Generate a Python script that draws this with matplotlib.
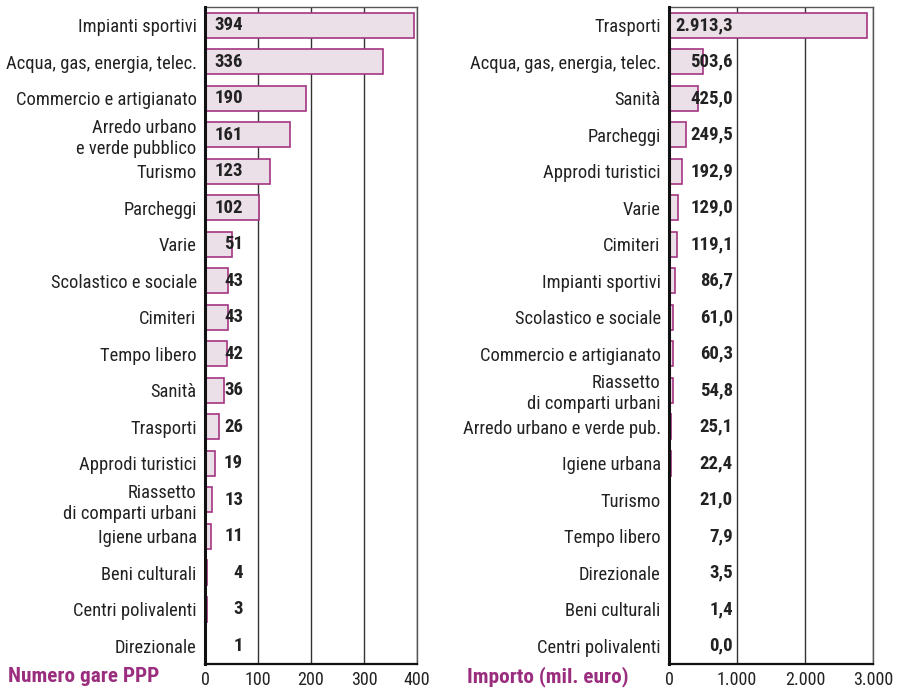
import matplotlib
matplotlib.use("Agg")
import matplotlib.pyplot as plt
from matplotlib.ticker import FuncFormatter

plt.rcParams['font.family'] = ['Liberation Sans Narrow', 'Roboto Condensed', 'Roboto', 'DejaVu Sans']

left_cats = ["Impianti sportivi", "Acqua, gas, energia, telec.", "Commercio e artigianato",
             "Arredo urbano\ne verde pubblico", "Turismo", "Parcheggi", "Varie",
             "Scolastico e sociale", "Cimiteri", "Tempo libero", "Sanità", "Trasporti",
             "Approdi turistici", "Riassetto\ndi comparti urbani", "Igiene urbana",
             "Beni culturali", "Centri polivalenti", "Direzionale"]
left_vals = [394, 336, 190, 161, 123, 102, 51, 43, 43, 42, 36, 26, 19, 13, 11, 4, 3, 1]
left_ticks = [0, 100, 200, 300, 400]

right_cats = ["Trasporti", "Acqua, gas, energia, telec.", "Sanità", "Parcheggi",
              "Approdi turistici", "Varie", "Cimiteri", "Impianti sportivi",
              "Scolastico e sociale", "Commercio e artigianato",
              "Riassetto\ndi comparti urbani", "Arredo urbano e verde pub.",
              "Igiene urbana", "Turismo", "Tempo libero", "Direzionale",
              "Beni culturali", "Centri polivalenti"]
right_vals = [2913.3, 503.6, 425.0, 249.5, 192.9, 129.0, 119.1, 86.7, 61.0, 60.3,
              54.8, 25.1, 22.4, 21.0, 7.9, 3.5, 1.4, 0.0]
right_ticks = [0, 1000, 2000, 3000]

FILL = "#ebdfe8"
EDGE = "#a33581"
TITLE = "#9b2d7f"

def it_int(v):
    return f"{int(round(v)):,}".replace(",", ".")

def it_dec(v):
    s = f"{v:,.1f}"
    return s.replace(",", "X").replace(".", ",").replace("X", ".")

fig = plt.figure(figsize=(8.98, 6.91), dpi=100)
axL = fig.add_axes([205/898, 1-664/691, 212/898, 657/691])
axR = fig.add_axes([669/898, 1-664/691, 204/898, 657/691])

def draw(ax, cats, vals, ticks, xmax, labx, fmt, title, title_x):
    n = len(cats)
    ys = list(range(n))
    ax.barh(ys, vals, height=0.68, color=FILL, edgecolor=EDGE, linewidth=1.2, zorder=3)
    ax.set_ylim(n - 0.5, -0.5)
    ax.set_xlim(0, xmax)
    ax.set_yticks(ys)
    ax.set_yticklabels(cats, fontsize=13.3, color="#222222", linespacing=1.2)
    ax.set_xticks(ticks)
    ax.xaxis.set_major_formatter(FuncFormatter(lambda v, p: it_int(v)))
    ax.tick_params(axis='both', length=0, colors="#222222")
    ax.tick_params(axis='x', labelsize=13, pad=5)
    ax.tick_params(axis='y', pad=6)
    for t in ticks[1:]:
        ax.axvline(t, color="#333333", linewidth=1.0, zorder=1)
    for s in ['top', 'right']:
        ax.spines[s].set_color("#555555")
        ax.spines[s].set_linewidth(1.0)
    ax.spines['left'].set_color("#111111")
    ax.spines['left'].set_linewidth(2.2)
    ax.spines['bottom'].set_color("#111111")
    ax.spines['bottom'].set_linewidth(1.6)
    ax.spines['left'].set_zorder(5)
    for y, v in zip(ys, vals):
        ax.text(labx, y, fmt(v), ha='right', va='center', fontsize=13.5,
                fontweight='bold', color="#222222", zorder=6)
    fig.text(title_x, 1 - 677/691, title, ha='left', va='center', fontsize=15.3,
             fontweight='bold', color=TITLE)

draw(axL, left_cats, left_vals, left_ticks, 400, 72, it_int, "Numero gare PPP", 8/898)
draw(axR, right_cats, right_vals, right_ticks, 3000, 941, it_dec, "Importo (mil. euro)", 467/898)

fig.savefig("out.png", dpi=100)
